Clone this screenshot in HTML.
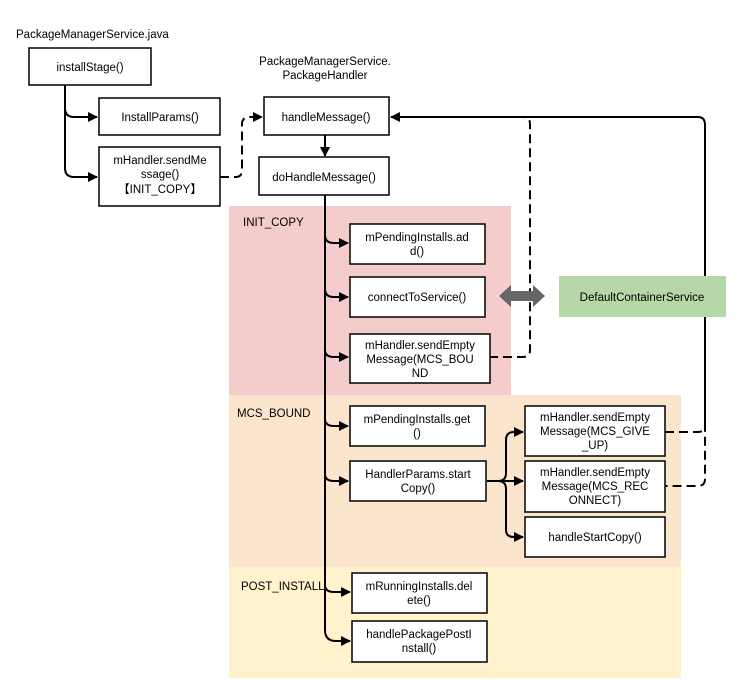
<!DOCTYPE html>
<html><head><meta charset="utf-8"><style>
html,body{margin:0;padding:0;background:#fff}
svg{display:block}
text{font-family:"Liberation Sans",Arial,sans-serif;font-size:11.5px;fill:#000}
.b{fill:#fff;stroke:#000;stroke-width:1.5}
.l{fill:none;stroke:#000;stroke-width:2}
.d{fill:none;stroke:#000;stroke-width:2;stroke-dasharray:9 5}
</style></head><body>
<svg width="749" height="697" xmlns="http://www.w3.org/2000/svg">
<defs><marker id="a" markerWidth="10" markerHeight="10" refX="9" refY="5" orient="auto" markerUnits="userSpaceOnUse"><path d="M0,0L10,5L0,10z" fill="#000"/></marker></defs>
<rect x="229" y="206" width="282" height="189" fill="#f4cccc"/>
<rect x="229" y="395" width="452" height="172" fill="#fce5cd"/>
<rect x="229" y="567" width="452" height="111" fill="#fff2cc"/>
<text x="16" y="38">PackageManagerService.java</text>
<text x="325" y="65" text-anchor="middle">PackageManagerService.</text>
<text x="325" y="79" text-anchor="middle">PackageHandler</text>
<text x="243" y="226">INIT_COPY</text>
<text x="237" y="417">MCS_BOUND</text>
<text x="241" y="590">POST_INSTALL</text>
<!-- connectors -->
<path class="l" d="M65,85V108Q65,117 74,117H97" marker-end="url(#a)"/>
<path class="l" d="M65,108V168Q65,177 74,177H97" marker-end="url(#a)"/>
<path class="d" d="M220,177H236Q242,177 242,170V124Q242,117 250,117H262" marker-end="url(#a)"/>
<path class="l" d="M325,135V156" marker-end="url(#a)"/>
<path class="l" d="M325,195V630Q325,641 336,641H350" marker-end="url(#a)"/>
<path class="l" d="M325,235Q325,243 334,243H348" marker-end="url(#a)"/>
<path class="l" d="M325,289Q325,297 334,297H348" marker-end="url(#a)"/>
<path class="l" d="M325,350Q325,357 334,357H348" marker-end="url(#a)"/>
<path class="l" d="M325,419Q325,426 334,426H348" marker-end="url(#a)"/>
<path class="l" d="M325,474Q325,481 334,481H348" marker-end="url(#a)"/>
<path class="l" d="M325,585Q325,592 334,592H350" marker-end="url(#a)"/>
<path class="d" d="M489,357H523Q530,357 530,350V124Q530,117 523,117"/>
<path class="l" d="M698,117H391" marker-end="url(#a)"/>
<path class="l" d="M698,117Q705,117 705,125V425"/>
<path class="d" d="M665,432H698Q705,432 705,425V479Q705,486 698,486H665"/>
<path class="l" d="M487,481H498Q506,481 506,473V440Q506,432 514,432H523" marker-end="url(#a)"/>
<path class="l" d="M498,481H523" marker-end="url(#a)"/>
<path class="l" d="M498,481Q506,481 506,489V530Q506,537 514,537H523" marker-end="url(#a)"/>
<!-- double arrow -->
<path d="M499,296L511,285V291H533V285L545,296L533,307V301H511V307Z" fill="#666"/>
<!-- boxes -->
<rect class="b" x="29" y="48" width="122" height="37"/><text x="90" y="71" text-anchor="middle">installStage()</text>
<rect class="b" x="99" y="98" width="121" height="37"/><text x="160" y="121" text-anchor="middle">InstallParams()</text>
<rect class="b" x="99" y="147" width="121" height="59"/><text x="160" y="164" text-anchor="middle">mHandler.sendMe</text><text x="160" y="178" text-anchor="middle">ssage()</text><text x="160" y="193" text-anchor="middle">【INIT_COPY】</text>
<rect class="b" x="264" y="97" width="125" height="38"/><text x="326" y="121" text-anchor="middle">handleMessage()</text>
<rect class="b" x="259" y="157" width="130" height="38"/><text x="324" y="181" text-anchor="middle">doHandleMessage()</text>
<rect class="b" x="350" y="224" width="135" height="40"/><text x="417" y="241" text-anchor="middle">mPendingInstalls.ad</text><text x="417" y="255" text-anchor="middle">d()</text>
<rect class="b" x="350" y="277" width="135" height="40"/><text x="417" y="301" text-anchor="middle">connectToService()</text>
<rect class="b" x="350" y="334" width="140" height="49"/><text x="420" y="349" text-anchor="middle">mHandler.sendEmpty</text><text x="420" y="363" text-anchor="middle">Message(MCS_BOU</text><text x="420" y="377" text-anchor="middle">ND</text>
<rect x="559" y="276" width="167" height="41" fill="#b6d7a8"/><text x="642" y="301" text-anchor="middle">DefaultContainerService</text>
<rect class="b" x="350" y="406" width="135" height="40"/><text x="417" y="423" text-anchor="middle">mPendingInstalls.get</text><text x="417" y="437" text-anchor="middle">()</text>
<rect class="b" x="350" y="461" width="136" height="40"/><text x="418" y="478" text-anchor="middle">HandlerParams.start</text><text x="418" y="492" text-anchor="middle">Copy()</text>
<rect class="b" x="525" y="406" width="140" height="50"/><text x="595" y="421" text-anchor="middle">mHandler.sendEmpty</text><text x="595" y="435" text-anchor="middle">Message(MCS_GIVE</text><text x="595" y="449" text-anchor="middle">_UP)</text>
<rect class="b" x="525" y="461" width="140" height="51"/><text x="595" y="476" text-anchor="middle">mHandler.sendEmpty</text><text x="595" y="490" text-anchor="middle">Message(MCS_REC</text><text x="595" y="504" text-anchor="middle">ONNECT)</text>
<rect class="b" x="525" y="517" width="140" height="40"/><text x="595" y="541" text-anchor="middle">handleStartCopy()</text>
<rect class="b" x="352" y="573" width="135" height="40"/><text x="419" y="590" text-anchor="middle">mRunningInstalls.del</text><text x="419" y="604" text-anchor="middle">ete()</text>
<rect class="b" x="352" y="621" width="135" height="41"/><text x="419" y="638" text-anchor="middle">handlePackagePostI</text><text x="419" y="652" text-anchor="middle">nstall()</text>
</svg>
</body></html>
